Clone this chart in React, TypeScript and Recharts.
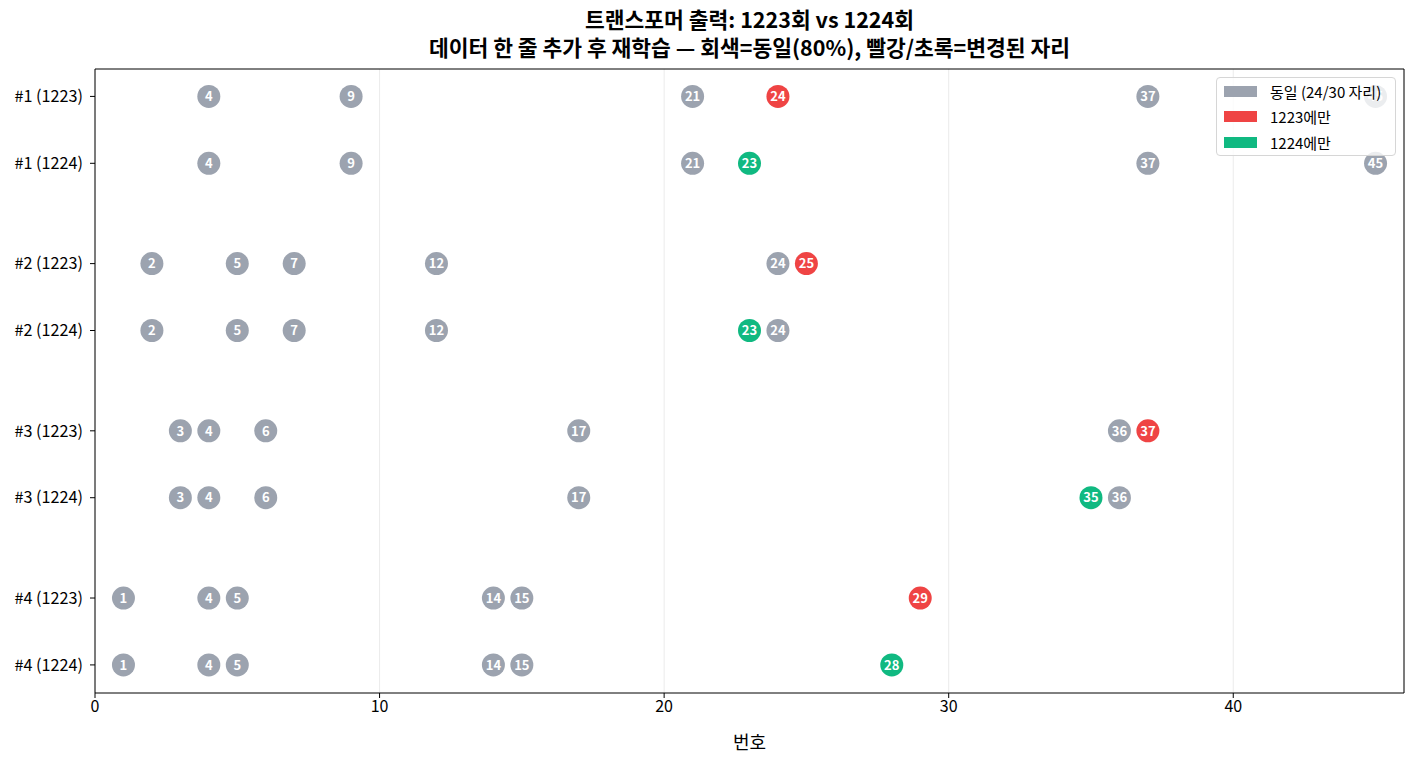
import React from 'react';
import { ScatterChart, Scatter, XAxis, YAxis, CartesianGrid, ReferenceLine } from 'recharts';

const rowLabels = ['#1 (1223)', '#1 (1224)', '#2 (1223)', '#2 (1224)', '#3 (1223)', '#3 (1224)', '#4 (1223)', '#4 (1224)'];
const sameNumbers = [
  [4, 9, 21, 37, 45],
  [4, 9, 21, 37, 45],
  [2, 5, 7, 12, 24],
  [2, 5, 7, 12, 24],
  [3, 4, 6, 17, 36],
  [3, 4, 6, 17, 36],
  [1, 4, 5, 14, 15],
  [1, 4, 5, 14, 15],
];
const only1223 = [24, 25, 37, 29];
const only1224 = [23, 23, 35, 28];
const xTicks = [0, 10, 20, 30, 40];

const GRAY = '#9ca3af';
const RED = '#ef4444';
const GREEN = '#10b981';
const FONT = '"Noto Sans CJK KR", "Noto Sans", sans-serif';

const X_DOMAIN: [number, number] = [0, 46];
const Y_DOMAIN: [number, number] = [-0.41, 8.92];

const rowPos = (i: number) => Math.floor(i / 2) * 2.5 + (i % 2);
const rowTicks = rowLabels.map((_, i) => rowPos(i));

const grayData = sameNumbers.flatMap((nums, i) => nums.map((n) => ({ x: n, y: rowPos(i) })));
const redData = only1223.map((n, p) => ({ x: n, y: rowPos(2 * p) }));
const greenData = only1224.map((n, p) => ({ x: n, y: rowPos(2 * p + 1) }));

const makeShape = (color: string) => (props: any) => {
  const { cx, cy, payload } = props;
  if (cx == null || cy == null) return <g />;
  return (
    <g>
      <circle cx={cx} cy={cy} r={11.5} fill={color} />
      <text x={cx} y={cy} dy="0.36em" textAnchor="middle" fill="#fff" fontSize={13} fontWeight="bold" fontFamily={FONT}>
        {payload.x}
      </text>
    </g>
  );
};

const legendItems = [
  { label: '동일 (24/30 자리)', color: GRAY },
  { label: '1223에만', color: RED },
  { label: '1224에만', color: GREEN },
];

const LegendBox = () => (
  <div
    style={{
      position: 'absolute',
      left: 1216,
      top: 77,
      width: 180,
      height: 79,
      boxSizing: 'border-box',
      background: 'rgba(255,255,255,0.8)',
      border: '1px solid #d6d6d6',
      borderRadius: 4,
      fontFamily: FONT,
      fontSize: 15,
      color: '#000',
    }}
  >
    {legendItems.map((it, i) => (
      <div key={it.label} style={{ position: 'absolute', left: 7, top: 1 + i * 25.5, display: 'flex', alignItems: 'center', height: 24, whiteSpace: 'nowrap' }}>
        <span style={{ display: 'inline-block', width: 33, height: 11, background: it.color, marginRight: 13 }} />
        <span>{it.label}</span>
      </div>
    ))}
  </div>
);

export default function App() {
  return (
    <div style={{ position: 'absolute', left: 0, top: 0, width: 1416, height: 765, background: '#fff', fontFamily: FONT }}>
      <div style={{ position: 'absolute', left: 95, width: 1309, top: 5, textAlign: 'center', fontWeight: 'bold', fontSize: 21.5, lineHeight: '28px', color: '#000' }}>
        <div>트랜스포머 출력: 1223회 vs 1224회</div>
        <div>데이터 한 줄 추가 후 재학습 — 회색=동일(80%), 빨강/초록=변경된 자리</div>
      </div>
      <div style={{ position: 'absolute', left: 0, top: 0 }}>
        <ScatterChart width={1416} height={765} margin={{ top: 69, right: 12, bottom: 12, left: 0 }}>
          <CartesianGrid horizontal={false} stroke="#ebebeb" strokeWidth={1} />
          <XAxis
            type="number"
            dataKey="x"
            domain={X_DOMAIN}
            ticks={xTicks}
            allowDataOverflow
            height={60}
            axisLine={{ stroke: '#000' }}
            tickLine={{ stroke: '#000' }}
            tickSize={5}
            tickMargin={3}
            tick={{ fill: '#000', fontSize: 16, fontFamily: FONT }}
            label={{ value: '번호', position: 'insideBottom', offset: 4, fill: '#000', fontSize: 18, fontFamily: FONT }}
          />
          <YAxis
            type="number"
            dataKey="y"
            domain={Y_DOMAIN}
            reversed
            ticks={rowTicks}
            tickFormatter={(v: number) => rowLabels[rowTicks.indexOf(v)] ?? ''}
            allowDataOverflow
            width={95}
            axisLine={{ stroke: '#000' }}
            tickLine={{ stroke: '#000' }}
            tickSize={5}
            tickMargin={7}
            tick={{ fill: '#000', fontSize: 16.2, fontFamily: FONT }}
            interval={0}
          />
          <ReferenceLine x={X_DOMAIN[1]} stroke="#000" ifOverflow="visible" />
          <ReferenceLine y={Y_DOMAIN[0]} stroke="#000" ifOverflow="visible" />
          <Scatter data={grayData} fill={GRAY} shape={makeShape(GRAY)} isAnimationActive={false} />
          <Scatter data={redData} fill={RED} shape={makeShape(RED)} isAnimationActive={false} />
          <Scatter data={greenData} fill={GREEN} shape={makeShape(GREEN)} isAnimationActive={false} />
        </ScatterChart>
      </div>
      <LegendBox />
    </div>
  );
}
